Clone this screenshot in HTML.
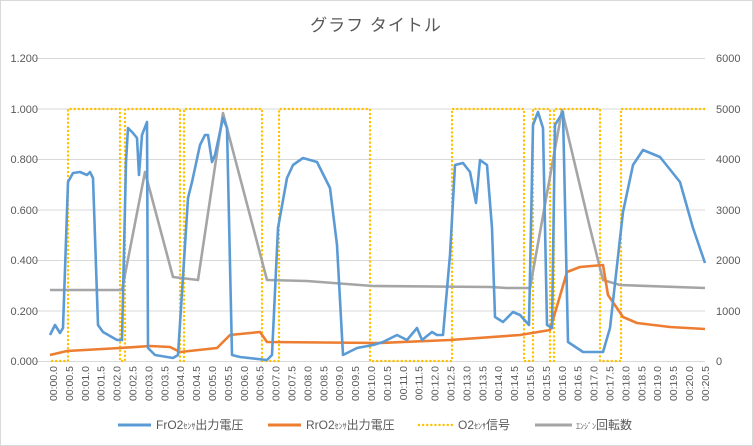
<!DOCTYPE html>
<html><head><meta charset="utf-8"><style>
body{margin:0;background:#fff;}
svg{display:block;font-family:"Liberation Sans","Noto Sans CJK JP",sans-serif;}
</style></head><body>
<svg width="753" height="446" viewBox="0 0 753 446">
<rect x="0.5" y="0.5" width="752" height="445" fill="#fff" stroke="#d9d9d9"/>
<text x="376" y="31" text-anchor="middle" font-size="17" fill="#595959" letter-spacing="1">グラフ タイトル</text>
<g stroke="#d9d9d9" stroke-width="1">
<line x1="35" x2="705" y1="58.5" y2="58.5"/><line x1="35" x2="705" y1="109" y2="109"/>
<line x1="35" x2="705" y1="159.5" y2="159.5"/><line x1="35" x2="705" y1="210" y2="210"/>
<line x1="35" x2="705" y1="260.5" y2="260.5"/><line x1="35" x2="705" y1="311" y2="311"/>
<line x1="35" x2="705" y1="361.5" y2="361.5"/>
</g>
<g font-size="11" fill="#595959" text-anchor="end">
<text x="38" y="62">1.200</text><text x="38" y="113">1.000</text><text x="38" y="163">0.800</text>
<text x="38" y="214">0.600</text><text x="38" y="264">0.400</text><text x="38" y="315">0.200</text><text x="38" y="365">0.000</text>
</g>
<g font-size="11" fill="#595959">
<text x="716" y="62">6000</text><text x="716" y="113">5000</text><text x="716" y="163">4000</text>
<text x="716" y="214">3000</text><text x="716" y="264">2000</text><text x="716" y="315">1000</text><text x="716" y="365">0</text>
</g>
<g font-size="10.5" fill="#595959" text-anchor="end">
<text transform="translate(57,366) rotate(-90)">00:00.0</text>
<text transform="translate(72.9,366) rotate(-90)">00:00.5</text>
<text transform="translate(88.8,366) rotate(-90)">00:01.0</text>
<text transform="translate(104.7,366) rotate(-90)">00:01.5</text>
<text transform="translate(120.6,366) rotate(-90)">00:02.0</text>
<text transform="translate(136.5,366) rotate(-90)">00:02.5</text>
<text transform="translate(152.4,366) rotate(-90)">00:03.0</text>
<text transform="translate(168.3,366) rotate(-90)">00:03.5</text>
<text transform="translate(184.2,366) rotate(-90)">00:04.0</text>
<text transform="translate(200.1,366) rotate(-90)">00:04.5</text>
<text transform="translate(216,366) rotate(-90)">00:05.0</text>
<text transform="translate(231.9,366) rotate(-90)">00:05.5</text>
<text transform="translate(247.8,366) rotate(-90)">00:06.0</text>
<text transform="translate(263.7,366) rotate(-90)">00:06.5</text>
<text transform="translate(279.6,366) rotate(-90)">00:07.0</text>
<text transform="translate(295.5,366) rotate(-90)">00:07.5</text>
<text transform="translate(311.4,366) rotate(-90)">00:08.0</text>
<text transform="translate(327.3,366) rotate(-90)">00:08.5</text>
<text transform="translate(343.2,366) rotate(-90)">00:09.0</text>
<text transform="translate(359.1,366) rotate(-90)">00:09.5</text>
<text transform="translate(375,366) rotate(-90)">00:10.0</text>
<text transform="translate(390.9,366) rotate(-90)">00:10.5</text>
<text transform="translate(406.8,366) rotate(-90)">00:11.0</text>
<text transform="translate(422.7,366) rotate(-90)">00:11.5</text>
<text transform="translate(438.6,366) rotate(-90)">00:12.0</text>
<text transform="translate(454.5,366) rotate(-90)">00:12.5</text>
<text transform="translate(470.4,366) rotate(-90)">00:13.0</text>
<text transform="translate(486.3,366) rotate(-90)">00:13.5</text>
<text transform="translate(502.2,366) rotate(-90)">00:14.0</text>
<text transform="translate(518.1,366) rotate(-90)">00:14.5</text>
<text transform="translate(534,366) rotate(-90)">00:15.0</text>
<text transform="translate(549.9,366) rotate(-90)">00:15.5</text>
<text transform="translate(565.8,366) rotate(-90)">00:16.0</text>
<text transform="translate(581.7,366) rotate(-90)">00:16.5</text>
<text transform="translate(597.6,366) rotate(-90)">00:17.0</text>
<text transform="translate(613.5,366) rotate(-90)">00:17.5</text>
<text transform="translate(629.4,366) rotate(-90)">00:18.0</text>
<text transform="translate(645.3,366) rotate(-90)">00:18.5</text>
<text transform="translate(661.2,366) rotate(-90)">00:19.0</text>
<text transform="translate(677.1,366) rotate(-90)">00:19.5</text>
<text transform="translate(693,366) rotate(-90)">00:20.0</text>
<text transform="translate(708.9,366) rotate(-90)">00:20.5</text>
</g>
<polyline fill="none" stroke="#ffc000" stroke-width="2.4" stroke-linecap="round" stroke-dasharray="0.1 4" points="52,361 68,361 68,109 120,109 120,361 125,361 125,109 180,109 180,361 184,361 184,109 262,109 262,361 279,361 279,109 370,109 370,361 452,361 452,109 524,109 524,361 533,361 533,109 550,109 550,361 554,361 554,109 600,109 600,361 621,361 621,109 705,109"/>
<polyline fill="none" stroke="#a5a5a5" stroke-width="2.6" stroke-linejoin="round" points="50,290 122,290 145,172 173,277 198,280 223,113 267,280 307,281 373,286 490,287 507,288 530,288 562,110 590,228 603,280 620,285 705,288"/>
<polyline fill="none" stroke="#ed7d31" stroke-width="2.6" stroke-linejoin="round" points="50,355 67,351 120,348 150,346 170,347 180,352 217,348 230,335 260,332 267,342 380,343 450,340 520,335 550,330 567,272 580,267 603,265 608,295 623,317 637,323 670,327 705,329"/>
<polyline fill="none" stroke="#5b9bd5" stroke-width="2.6" stroke-linejoin="round" points="50,335 55,325 60,333 63,328 68,182 73,173 80,172 87,175 90,172 93,178 98,325 103,332 117,340 122,340 126,162 128,128 133,133 137,138 139,175 142,135 147,122 148,348 155,355 173,358 178,355 188,198 192,182 200,145 205,135 208,135 212,162 215,155 223,118 227,128 232,355 240,357 267,360 272,355 278,228 287,178 293,165 303,158 317,162 330,188 337,245 343,355 357,348 373,345 383,342 397,335 407,340 417,328 422,340 432,332 437,335 443,335 450,255 455,165 463,163 470,172 476,203 480,160 487,165 492,228 495,317 503,322 513,312 520,315 529,325 533,125 538,112 543,128 547,325 552,328 555,125 563,112 568,342 583,352 603,352 610,328 623,212 633,165 643,150 660,157 680,182 693,228 705,263"/>
<g font-size="12" fill="#595959">
<line x1="118" x2="151" y1="425" y2="425" stroke="#5b9bd5" stroke-width="3"/>
<text x="156" y="429">FrO2<tspan font-size="8">ｾﾝｻ</tspan>出力電圧</text>
<line x1="268" x2="301" y1="425" y2="425" stroke="#ed7d31" stroke-width="3"/>
<text x="306" y="429">RrO2<tspan font-size="8">ｾﾝｻ</tspan>出力電圧</text>
<line x1="419" x2="453" y1="425" y2="425" stroke="#ffc000" stroke-width="2.4" stroke-linecap="round" stroke-dasharray="0.1 4"/>
<text x="458" y="429">O2<tspan font-size="8">ｾﾝｻ</tspan>信号</text>
<line x1="535" x2="572" y1="425" y2="425" stroke="#a5a5a5" stroke-width="3"/>
<text x="576" y="429"><tspan font-size="8">ｴﾝｼﾞﾝ</tspan>回転数</text>
</g>
</svg>
</body></html>
